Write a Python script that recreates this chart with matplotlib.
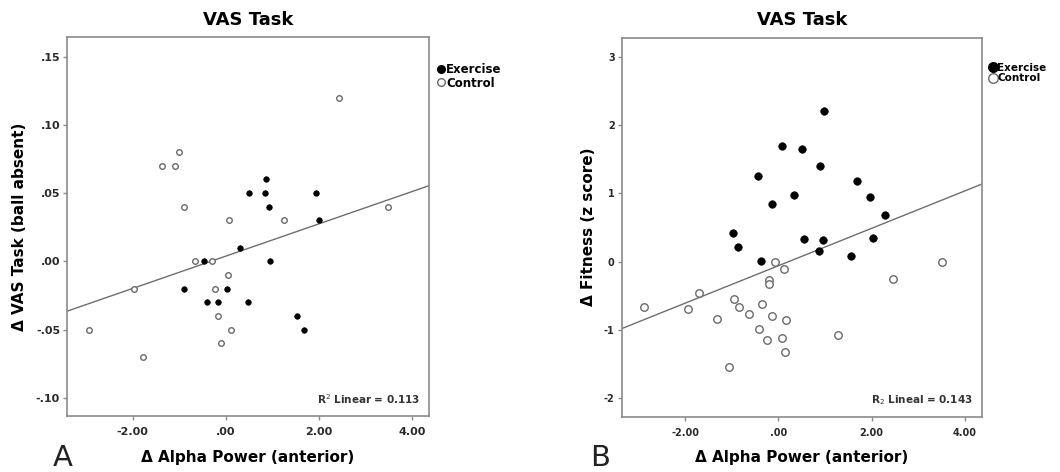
import matplotlib
matplotlib.use("Agg")
import matplotlib.pyplot as plt
from matplotlib.lines import Line2D
import numpy as np

plt.rcParams['font.family'] = ['DejaVu Sans']

# Panel A: VAS task change vs alpha power change
a_ex_x = [0.86, 0.50, 0.85, 0.92, 1.93, 2.00, 0.31, -0.47, 0.95, -0.89, 0.03, -0.41, -0.17, 0.47, 1.52, 1.67]
a_ex_y = [0.06, 0.05, 0.05, 0.04, 0.05, 0.03, 0.01, 0.00, 0.00, -0.02, -0.02, -0.03, -0.03, -0.03, -0.04, -0.05]
a_ct_x = [2.43, -1.00, -1.38, -1.09, -0.89, 0.07, 1.25, 3.48, -0.66, -0.29, 0.04, -0.24, -1.97, -0.17, 0.10, -0.11, -2.93, -1.77]
a_ct_y = [0.12, 0.08, 0.07, 0.07, 0.04, 0.03, 0.03, 0.04, 0.00, 0.00, -0.01, -0.02, -0.02, -0.04, -0.05, -0.06, -0.05, -0.07]
a_fit = (0.01184, 0.0038)   # slope, intercept
a_r2 = 0.113

# Panel B: fitness change vs alpha power change
b_ex_x = [0.97, 0.07, 0.51, 0.89, -0.43, 0.34, -0.13, 1.69, 1.96, 2.28, -0.97, -0.86, 0.54, 0.95, 0.87, 2.02, 1.55, -0.38]
b_ex_y = [2.21, 1.70, 1.65, 1.40, 1.26, 0.98, 0.85, 1.18, 0.95, 0.69, 0.42, 0.21, 0.33, 0.31, 0.16, 0.34, 0.09, 0.01]
b_ct_x = [-0.08, 0.12, -0.20, -0.21, 3.50, 2.46, -2.88, -1.71, -1.93, -1.32, -0.96, -0.85, -0.63, -0.36, -0.41, -0.14, 0.16, -0.25, 0.08, 0.14, 1.29, -1.05]
b_ct_y = [-0.01, -0.11, -0.27, -0.33, -0.01, -0.26, -0.67, -0.46, -0.70, -0.84, -0.54, -0.66, -0.77, -0.62, -0.98, -0.80, -0.85, -1.14, -1.12, -1.33, -1.07, -1.54]
b_fit = (0.274, -0.06)
b_r2 = 0.143

x_ticks = [-2, 0, 2, 4]
x_ticklabels = ['-2.00', '.00', '2.00', '4.00']
a_yticks = [-0.10, -0.05, 0.00, 0.05, 0.10, 0.15]
a_yticklabels = ['-.10', '-.05', '.00', '.05', '.10', '.15']
b_yticks = [-2, -1, 0, 1, 2, 3]
b_yticklabels = ['-2', '-1', '0', '1', '2', '3']

SPINE = '#8a8a8a'
TXT = '#2a2a2a'

fig = plt.figure(figsize=(10.6, 4.72), dpi=100)


def panel(rect, ex_x, ex_y, ct_x, ct_y, fit, xlim, ylim, yticks, yticklabels,
          ylabel, r2_text, ms, tick_fs, leg_fs):
    ax = fig.add_axes(rect)
    xs = np.array(xlim)
    ax.plot(xs, fit[0] * xs + fit[1], color='#6e6e6e', lw=1.0, zorder=1)
    ax.plot(ct_x, ct_y, 'o', ms=ms, mfc='white', mec='#6a6a6a', mew=1.0, zorder=2)
    ax.plot(ex_x, ex_y, 'o', ms=ms, mfc='black', mec='black', mew=0.5, zorder=3)
    ax.set_xlim(xlim)
    ax.set_ylim(ylim)
    ax.set_xticks(x_ticks)
    ax.set_xticklabels(x_ticklabels, fontsize=tick_fs, fontweight='bold', color=TXT)
    ax.set_yticks(yticks)
    ax.set_yticklabels(yticklabels, fontsize=tick_fs, fontweight='bold', color=TXT)
    ax.tick_params(axis='x', length=3, width=1, color=SPINE, pad=5)
    ax.tick_params(axis='y', length=3, width=1, color=SPINE, pad=2)
    for s in ax.spines.values():
        s.set_color(SPINE)
        s.set_linewidth(1.2)
    ax.set_title('VAS Task', fontsize=13, fontweight='bold', pad=9)
    ax.set_xlabel('\u0394 Alpha Power (anterior)', fontsize=11, fontweight='bold', labelpad=9)
    ax.set_ylabel(ylabel, fontsize=11, fontweight='bold', labelpad=6)
    ax.text(0.975, 0.045, r2_text, transform=ax.transAxes, ha='right', va='center',
            fontsize=7.5, fontweight='bold', color='#333333')
    handles = [Line2D([0], [0], marker='o', ls='none', mfc='black', mec='black', ms=ms + 1.5),
               Line2D([0], [0], marker='o', ls='none', mfc='white', mec='#6a6a6a', ms=ms + 1.5)]
    ax.legend(handles, ['Exercise', 'Control'], loc='upper left', bbox_to_anchor=(1.005, 0.95),
              frameon=False, handlelength=0.6, handletextpad=0.1, borderaxespad=0.2,
              labelspacing=0.05, prop={'weight': 'bold', 'size': leg_fs})
    return ax


ax_a = panel([0.0632, 0.1186, 0.3415, 0.803], a_ex_x, a_ex_y, a_ct_x, a_ct_y, a_fit,
             (-3.41, 4.36), (-0.1134, 0.1644), a_yticks, a_yticklabels,
             '\u0394 VAS Task (ball absent)', r'R$^2$ Linear = %.3f' % a_r2, 4.0, 8, 8.5)
ax_b = panel([0.5865, 0.1172, 0.340, 0.803], b_ex_x, b_ex_y, b_ct_x, b_ct_y, b_fit,
             (-3.36, 4.37), (-2.27, 3.28), b_yticks, b_yticklabels,
             '\u0394 Fitness (z score)', r'R$_2$ Lineal = %.3f' % b_r2, 5.4, 7, 7.5)

fig.text(0.050, 0.012, 'A', fontsize=21, color='#222222')
fig.text(0.557, 0.012, 'B', fontsize=21, color='#222222')

fig.savefig('out.png', dpi=100)
